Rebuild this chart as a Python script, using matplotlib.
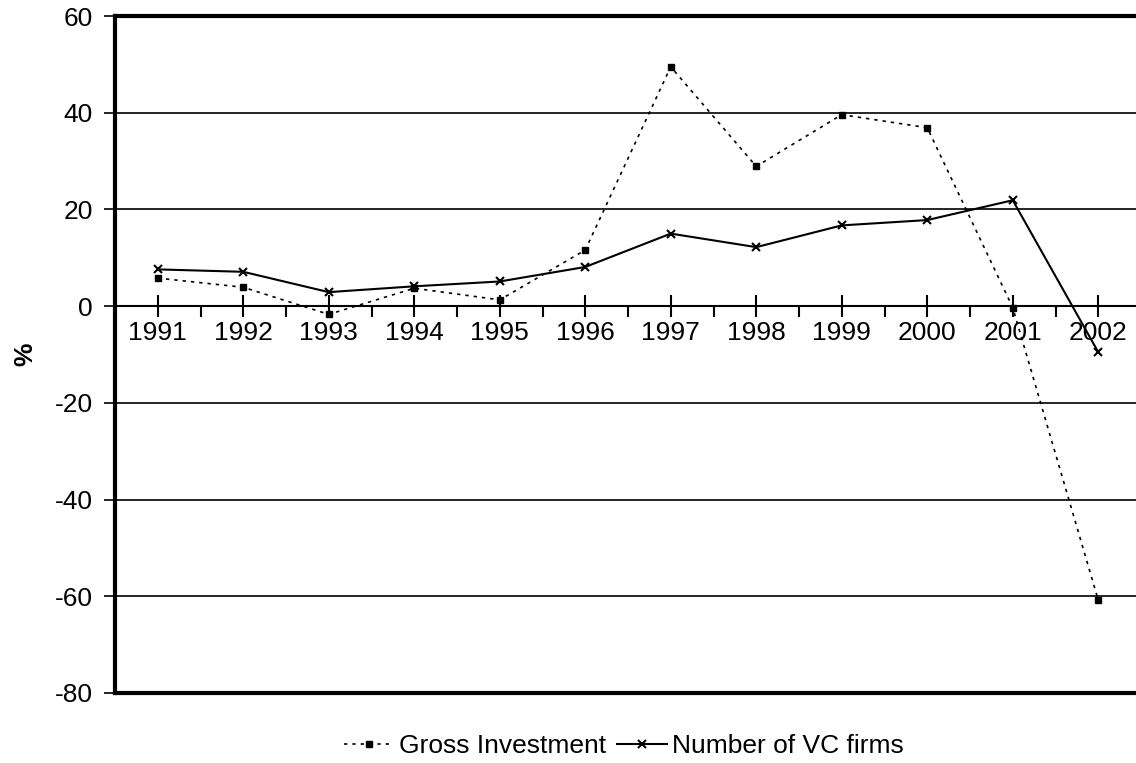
import numpy as np
import matplotlib
matplotlib.use("Agg")
import matplotlib.pyplot as plt

plt.rcParams['font.family'] = ['Liberation Sans', 'DejaVu Sans']
plt.rcParams['axes.unicode_minus'] = False

# Data (annual % change)
years = ['1991', '1992', '1993', '1994', '1995', '1996',
         '1997', '1998', '1999', '2000', '2001', '2002']
gross_investment = [5.8, 3.9, -1.7, 3.7, 1.3, 11.6, 49.5, 28.9, 39.6, 36.9, -0.3, -60.8]
vc_firms = [7.6, 7.1, 2.9, 4.1, 5.1, 8.1, 15.0, 12.2, 16.7, 17.8, 21.9, -9.5]

x = np.arange(len(years))

fig = plt.figure(figsize=(11.36, 7.63), dpi=100)
ax = fig.add_axes([115 / 1136, 1 - 693 / 763, 1026 / 1136, 677 / 763])

ax.plot(x, gross_investment, color='black', lw=1.2, ls=(0, (2, 3)),
        marker='s', ms=3.8, label='Gross Investment')
ax.plot(x, vc_firms, color='black', lw=1.5, ls='-',
        marker='x', ms=6, mew=1.5, label='Number of VC firms')

ax.set_xlim(-0.5, 11.5)
ax.set_ylim(-80, 60)
ax.set_yticks(np.arange(-80, 61, 20))
ax.tick_params(axis='y', labelsize=19, direction='out', length=8, width=1.2, pad=8)
ax.yaxis.grid(True, color='black', lw=1.2)
ax.set_axisbelow(True)

# hide the normal x axis, category axis sits on zero
ax.set_xticks([])
for side in ['left', 'top', 'bottom']:
    ax.spines[side].set_linewidth(3)
ax.spines['right'].set_visible(False)

zero_frac = (0 - (-80)) / 140
sec = ax.secondary_xaxis(zero_frac)
sec.xaxis.set_ticks_position('bottom')
sec.xaxis.set_label_position('bottom')
sec.set_xticks(x)
sec.set_xticklabels(years)
sec.set_xticks(x[:-1] + 0.5, minor=True)
for side in ['top', 'bottom']:
    sec.spines[side].set_linewidth(1.5)
sec.tick_params(axis='x', which='major', direction='inout', length=16, width=1.5,
                labelsize=19, pad=3)
sec.tick_params(axis='x', which='minor', direction='out', length=8, width=1.5)

fig.text(0.022, 0.536, '%', rotation=90, fontsize=19, fontweight='bold',
         ha='center', va='center')

fig.legend(loc='center', bbox_to_anchor=(0.549, 0.022), ncol=2, frameon=False,
           fontsize=19, handlelength=1.9, handletextpad=0.2, columnspacing=0.4,
           borderpad=0)

fig.savefig('out.png', dpi=100)
